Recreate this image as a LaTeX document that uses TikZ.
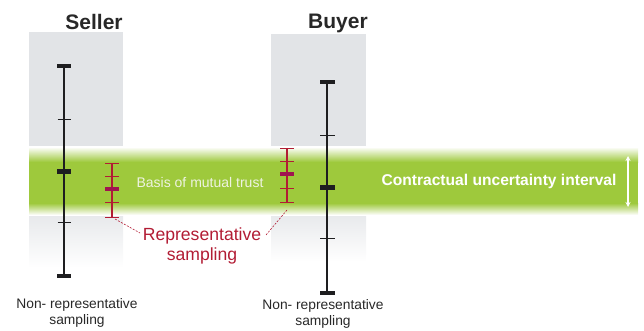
\documentclass[tikz,border=0pt]{standalone}
\usepackage{fontspec}
\setmainfont{Liberation Sans}
\usetikzlibrary{arrows.meta}
\definecolor{bandgreen}{RGB}{158,201,60}
\definecolor{boxgrey}{RGB}{226,228,231}
\definecolor{barblack}{RGB}{30,30,32}
\definecolor{repred}{RGB}{178,28,52}
\definecolor{tickmag}{RGB}{160,20,80}
\definecolor{txtgrey}{RGB}{40,40,40}
\begin{document}
\begin{tikzpicture}[x=1pt,y=-1pt,
  bigbar/.style={draw=barblack,line width=2.8pt},
  bigcap/.style={draw=barblack,line width=3.6pt},
  bigmid/.style={draw=barblack,line width=5pt},
  thintick/.style={draw=barblack,line width=0.9pt},
  redbar/.style={draw=repred,line width=1.1pt},
  redtick/.style={draw=repred,line width=0.9pt},
  redmid/.style={draw=tickmag,line width=3.4pt},
  head/.style={font=\bfseries\fontsize{21}{24}\selectfont,text=txtgrey},
  nonrep/.style={font=\fontsize{13.8}{16}\selectfont,text=txtgrey,align=center,inner sep=0pt},
  conn/.style={draw=repred,line width=0.6pt,dash pattern=on 2pt off 1.4pt}]
\useasboundingbox (0,0) rectangle (644,331);
% grey boxes
\fill[boxgrey] (29,32) rectangle (123,160);
\shade[top color=boxgrey,bottom color=white] (29,203) rectangle (123,268);
\fill[boxgrey] (271,34) rectangle (366,160);
\shade[top color=boxgrey,bottom color=white] (271,203) rectangle (366,262);
% green band
\shade[top color=white,bottom color=bandgreen] (29,147) rectangle (638,162);
\fill[bandgreen] (29,162) rectangle (638,203.2);
\shade[top color=bandgreen,bottom color=white] (29,203) rectangle (638,215);
% headings
\node[head] (seller) at (94,22) {Seller};
\node[head] (buyer) at (338,23) {Buyer};
% seller bar
\draw[bigbar] (64,66) -- (64,276);
\draw[bigcap] (57,66) -- (71,66);
\draw[bigcap] (57,276) -- (71,276);
\draw[thintick] (57.5,119) -- (71,119);
\draw[bigmid] (57,171) -- (71,171);
\draw[thintick] (57.5,222) -- (71,222);
% buyer bar
\draw[bigbar] (327,82) -- (327,293);
\draw[bigcap] (320,82) -- (335,82);
\draw[bigcap] (320,293) -- (335,293);
\draw[thintick] (320,135) -- (335,135);
\draw[bigmid] (320,187) -- (335,187);
\draw[thintick] (320,238) -- (335,238);
% seller red bar
\draw[redbar] (112,163) -- (112,217);
\foreach \y in {163,176,202,217} \draw[redtick] (105,\y) -- (119,\y);
\draw[redmid] (105,189) -- (119,189);
\coordinate (sredbot) at (115,219);
% buyer red bar
\draw[redbar] (287,148) -- (287,202);
\foreach \y in {148,161,188,202} \draw[redtick] (280,\y) -- (294,\y);
\draw[redmid] (280,174) -- (294,174);
\coordinate (bredbot) at (287,210);
% texts
\node[font=\fontsize{14}{16}\selectfont,text={rgb,255:red,238;green,243;blue,225}] (trust) at (200,182) {Basis of mutual trust};
\node[font=\bfseries\fontsize{15.6}{18}\selectfont,text=white] (cui) at (499,181) {Contractual uncertainty interval};
\draw[white,line width=1.6pt,{Stealth[length=5pt,width=5pt]}-{Stealth[length=5pt,width=5pt]}] (628,156) -- (628,207);
\node[font=\fontsize{17.6}{20}\selectfont,text=repred,align=center,inner sep=0pt] (rep) at (202,246) {Representative\\sampling};
\coordinate (repl) at (140,233);
\coordinate (repr) at (266,235);
\draw[conn] (sredbot) -- (repl);
\draw[conn] (bredbot) -- (repr);
\node[nonrep] (nrl) at (77,313) {Non- representative\\sampling};
\node[nonrep] (nrr) at (323,314) {Non- representative\\sampling};
\end{tikzpicture}
\end{document}
